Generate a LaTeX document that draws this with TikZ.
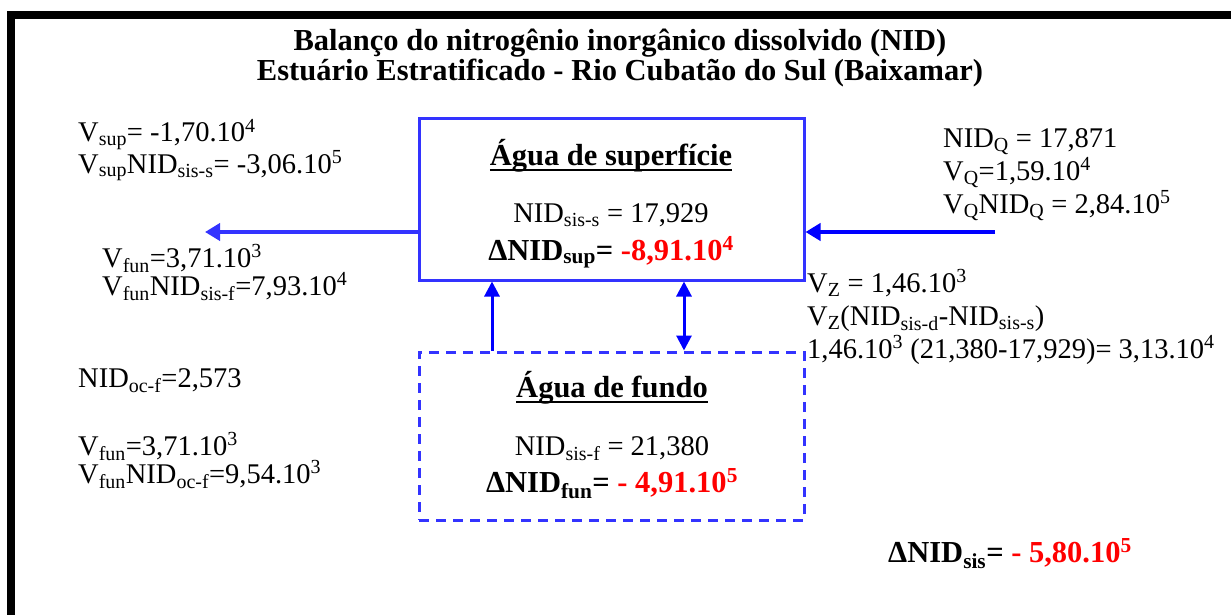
\documentclass[tikz,border=0pt]{standalone}
\usepackage{fontspec}
\setmainfont{Liberation Serif}
\usetikzlibrary{arrows.meta,positioning}
\definecolor{boxblue}{RGB}{51,51,255}
\definecolor{deepblue}{RGB}{0,0,255}
\definecolor{valred}{RGB}{255,0,0}
\newcommand{\sbx}[1]{\textsubscript{#1}}
\newcommand{\spx}[1]{\textsuperscript{#1}}
\newcommand{\ulbar}[1]{\setbox0\hbox{#1}\rlap{\rule[-6pt]{\wd0}{2.5pt}}\box0}
\tikzset{
  every picture/.style={font=\fontsize{28.5}{28}\selectfont},
  txt/.style={anchor=base west,align=left,inner sep=0pt,font=\fontsize{28.5}{#1}\selectfont},
  txt/.default=28,
  mid/.style={anchor=base,inner sep=0pt},
  big/.style={font=\fontsize{30.5}{30}\selectfont\bfseries},
  layer/.style={draw=boxblue,line width=3pt,minimum width=385pt,inner sep=0pt},
  flow/.style={line width=4pt,-{Triangle[length=15pt,width=17pt]}},
  mixing/.style={deepblue,line width=3pt,{Triangle[length=15pt,width=15pt]}-{Triangle[length=15pt,width=15pt]}},
}
\begin{document}
\begin{tikzpicture}[x=1pt,y=-1pt]
  \useasboundingbox (0,0) rectangle (1231,615);
  \draw[line width=8pt] (11,615) -- (11,15) -- (1231,15);
  \node[mid,big,align=center] (title) at (620,81)
    {Balanço do nitrogênio inorgânico dissolvido (NID)\\Estuário Estratificado - Rio Cubatão do Sul (Baixamar)};
  % the two layers
  \node[layer,minimum height=161pt] (sup) at (611.5,199.5) {};
  \node[layer,dash pattern=on 10pt off 7pt,minimum height=168pt] (fun) at (611.5,436) {};
  \node[mid,big] (suphead) at (611,165) {\ulbar{Água de superfície}};
  \node[mid] (supnid) at (611,222) {NID\sbx{sis-s} = 17,929};
  \node[mid,big] (supdelta) at (611,260) {ΔNID\sbx{sup}= \textcolor{valred}{-8,91.10\spx{4}}};
  \node[mid,big] (funhead) at (612,397) {\ulbar{Água de fundo}};
  \node[mid] (funnid) at (612,455) {NID\sbx{sis-f} = 21,380};
  \node[mid,big] (fundelta) at (612,492) {ΔNID\sbx{fun}= \textcolor{valred}{- 4,91.10\spx{5}}};
  % left side
  \node[txt] (outsup) at (78,173) {V\sbx{sup}= -1,70.10\spx{4}\\V\sbx{sup}NID\sbx{sis-s}= -3,06.10\spx{5}};
  \node[txt] (infun) at (102,295) {V\sbx{fun}=3,71.10\spx{3}\\V\sbx{fun}NID\sbx{sis-f}=7,93.10\spx{4}};
  \node[txt] (ocean) at (78,387) {NID\sbx{oc-f}=2,573};
  \node[txt] (oceanfun) at (78,483) {V\sbx{fun}=3,71.10\spx{3}\\V\sbx{fun}NID\sbx{oc-f}=9,54.10\spx{3}};
  % right side
  \node[txt=33] (river) at (943,213) {NID\sbx{Q} = 17,871\\V\sbx{Q}=1,59.10\spx{4}\\V\sbx{Q}NID\sbx{Q} = 2,84.10\spx{5}};
  \node[txt=33] (vert) at (807,358) {V\sbx{Z} = 1,46.10\spx{3}\\V\sbx{Z}(NID\sbx{sis-d}-NID\sbx{sis-s})\\1,46.10\spx{3} (21,380-17,929)= 3,13.10\spx{4}};
  \node[txt,big] (total) at (888,562) {ΔNID\sbx{sis}= \textcolor{valred}{- 5,80.10\spx{5}}};
  % flows
  \coordinate (seaward) at (205,232);
  \coordinate (landward) at (995,232);
  \coordinate (advx) at (492,300);
  \coordinate (mixx) at (684,300);
  \draw[flow,boxblue] (sup.west |- seaward) -- (seaward);
  \draw[flow,deepblue] (landward) -- (sup.east |- landward);
  \draw[deepblue,line width=3pt,-{Triangle[length=15pt,width=15pt]}] (fun.north -| advx) -- (sup.south -| advx);
  \draw[mixing] (fun.north -| mixx) -- (sup.south -| mixx);
\end{tikzpicture}
\end{document}
